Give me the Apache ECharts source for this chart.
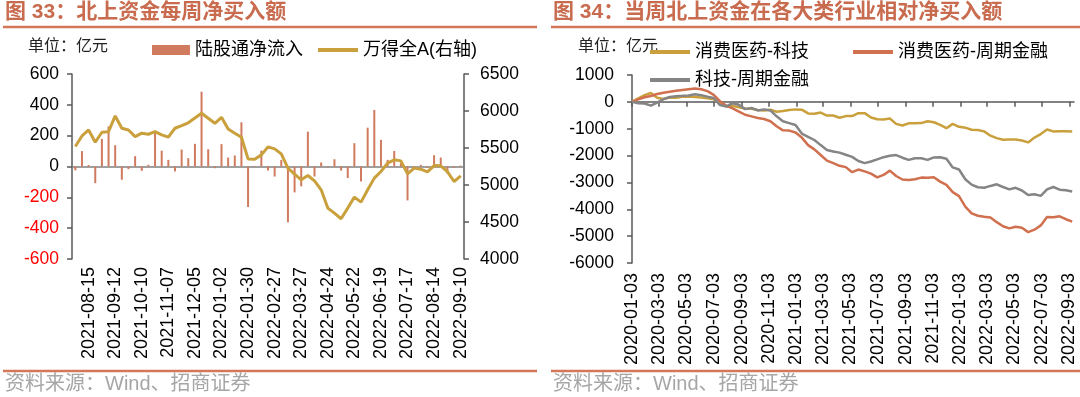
<!DOCTYPE html>
<html lang="zh">
<head>
<meta charset="UTF-8">
<title>北上资金</title>
<script src="https://cdn.jsdelivr.net/npm/echarts@6.0.0/dist/echarts.min.js"></script>
<style>
  html, body { margin: 0; padding: 0; background: #fff; }
  #main { width: 1080px; height: 397px; }
</style>
</head>
<body>
<div id="main"></div>
<script>
// 图33：周度数据
var weeks = [
  '2021-08-01','2021-08-08','2021-08-15','2021-08-22','2021-08-29','2021-09-05','2021-09-12','2021-09-19','2021-09-26',
  '2021-10-03','2021-10-10','2021-10-17','2021-10-24','2021-10-31','2021-11-07','2021-11-14','2021-11-21','2021-11-28',
  '2021-12-05','2021-12-12','2021-12-19','2021-12-26','2022-01-02','2022-01-09','2022-01-16','2022-01-23','2022-01-30',
  '2022-02-06','2022-02-13','2022-02-20','2022-02-27','2022-03-06','2022-03-13','2022-03-20','2022-03-27','2022-04-03',
  '2022-04-10','2022-04-17','2022-04-24','2022-05-01','2022-05-08','2022-05-15','2022-05-22','2022-05-29','2022-06-05',
  '2022-06-12','2022-06-19','2022-06-26','2022-07-03','2022-07-10','2022-07-17','2022-07-24','2022-07-31','2022-08-07',
  '2022-08-14','2022-08-21','2022-08-28','2022-09-04','2022-09-10'
];
// 陆股通净流入（亿元）
var northFlow = [
  -25, 100, 10, -108, 179, 260, 138, -86, -17, 67, -28, 11, 226, 103, 43, -32, 110, 54, 147, 485,
  112, -11, 145, 58, 71, 287, -263, 4, 103, -26, -65, 43, -362, -168, -129, 226, -65, 26, -5, 47,
  -26, -75, 151, -97, 252, 367, 173, 43, 101, 22, -220, -6, 11, -8, 73, 58, -45, -8, 6
];
// 万得全A（右轴）
var windA = [
  5520, 5663, 5744, 5578, 5713, 5721, 5933, 5767, 5744, 5654, 5700, 5686, 5721, 5677, 5646, 5767, 5802, 5840, 5905, 5969,
  5902, 5834, 5915, 5758, 5700, 5646, 5353, 5349, 5407, 5515, 5488, 5420, 5228, 5147, 5070, 5128, 5055, 4935, 4688, 4620,
  4544, 4688, 4836, 4769, 4935, 5093, 5182, 5295, 5340, 5326, 5151, 5228, 5214, 5178, 5263, 5259, 5180, 5047, 5124
];

// 图34：双周取点，自 2020-01-03 起（横轴为天数）
var dayTicks = [0, 60, 121, 182, 244, 305, 366, 425, 486, 547, 609, 670, 731, 790, 851, 912, 974];
var dayTickLabels = ['2020-01-03','2020-03-03','2020-05-03','2020-07-03','2020-09-03','2020-11-03','2021-01-03',
  '2021-03-03','2021-05-03','2021-07-03','2021-09-03','2021-11-03','2022-01-03','2022-03-03','2022-05-03','2022-07-03','2022-09-03'];
var consVsTech = [
  0, 130, 250, 330, 150, 110, 160, 150, 190, 200, 180, 160, 130, 100, -60, -170, -150, -200, -250, -260,
  -300, -320, -290, -370, -340, -300, -280, -290, -430, -440, -400, -510, -510, -590, -530, -530, -420, -420, -580, -650,
  -660, -620, -820, -880, -800, -800, -790, -720, -760, -860, -980, -820, -930, -960, -1040, -1045, -1100, -1260, -1350, -1410,
  -1400, -1400, -1440, -1510, -1330, -1200, -1030, -1100, -1090, -1095, -1100
];
var consVsCyc = [
  0, 90, 170, 220, 290, 340, 380, 410, 440, 470, 500, 470, 400, 260, 20, -150, -240, -360, -480, -540,
  -600, -640, -720, -910, -1060, -1070, -1140, -1330, -1610, -1770, -1980, -2190, -2280, -2380, -2430, -2620, -2520, -2590, -2670, -2810,
  -2720, -2560, -2760, -2890, -2910, -2880, -2820, -2830, -2810, -2970, -3090, -3360, -3510, -3900, -4150, -4240, -4280, -4310, -4480, -4630,
  -4710, -4650, -4690, -4850, -4760, -4600, -4290, -4300, -4260, -4370, -4460
];
var techVsCyc = [
  0, -50, -60, -140, -30, 100, 180, 210, 224, 240, 280, 250, 190, 140, -120, -170, -50, -110, -270, -230,
  -320, -280, -320, -540, -720, -790, -860, -1180, -1300, -1420, -1610, -1790, -1850, -1890, -1970, -2050, -2200, -2280, -2220, -2140,
  -2060, -2010, -1980, -2080, -2160, -2100, -2100, -2160, -2070, -2060, -2120, -2440, -2520, -2880, -3080, -3180, -3200, -3130, -3070, -3170,
  -3260, -3200, -3300, -3470, -3440, -3500, -3260, -3170, -3270, -3290, -3340
];
var stepDays = 14;

function toPairs(arr) {
  return arr.map(function (v, i) { return [i * stepDays, v]; });
}

var FONT = "'Liberation Sans', 'Noto Sans CJK SC', sans-serif";
var RED = '#C86B4E';
var RULE = '#D4775A';
var AXIS = '#595959';

var chart = echarts.init(document.getElementById('main'));

function plainNum(v) { return String(v); }

function yAxisBase(extra) {
  var base = {
    type: 'value',
    axisLine: { show: true, lineStyle: { color: AXIS, width: 1.5 } },
    axisTick: { show: true, length: 5, lineStyle: { color: AXIS, width: 1.5 } },
    splitLine: { show: false }
  };
  return Object.assign(base, extra);
}

var option = {
  animation: false,
  textStyle: { fontFamily: FONT },
  grid: [
    { left: 72, right: 616, top: 74, bottom: 138 },
    { left: 632, right: 6, top: 75, bottom: 134 }
  ],
  legend: [
    { data: ['陆股通净流入'], left: 152, top: 41, padding: 0, icon: 'rect', itemWidth: 38, itemHeight: 10,
      textStyle: { fontSize: 18, color: '#000', fontFamily: FONT } },
    { data: ['万得全A(右轴)'], left: 318, top: 41, padding: 0, icon: 'rect', itemWidth: 40, itemHeight: 4,
      textStyle: { fontSize: 18, color: '#000', fontFamily: FONT } },
    { data: ['消费医药-科技'], left: 650, top: 43, padding: 0, icon: 'rect', itemWidth: 40, itemHeight: 4,
      textStyle: { fontSize: 18, color: '#000', fontFamily: FONT } },
    { data: ['消费医药-周期金融'], left: 853, top: 43, padding: 0, icon: 'rect', itemWidth: 40, itemHeight: 4,
      textStyle: { fontSize: 18, color: '#000', fontFamily: FONT } },
    { data: ['科技-周期金融'], left: 650, top: 71, padding: 0, icon: 'rect', itemWidth: 40, itemHeight: 4,
      textStyle: { fontSize: 18, color: '#000', fontFamily: FONT } }
  ],
  xAxis: [
    {
      type: 'category', gridIndex: 0, data: weeks, boundaryGap: true, position: 'bottom',
      axisLine: { show: false }, axisTick: { show: false },
      axisLabel: {
        rotate: 90, fontSize: 18, color: '#000', margin: 8, fontFamily: FONT,
        interval: function (i) { return i % 4 === 2; }
      }
    },
    {
      type: 'category', gridIndex: 0, data: weeks, boundaryGap: true, position: 'bottom',
      axisLine: { show: true, onZero: true, onZeroAxisIndex: 0, lineStyle: { color: '#808080', width: 1.5 } },
      axisTick: { show: false }, axisLabel: { show: false }
    },
    {
      type: 'value', gridIndex: 1, min: 0, max: 984, position: 'bottom',
      axisLine: { show: false, onZero: false }, axisTick: { show: false }, splitLine: { show: false },
      axisLabel: {
        customValues: dayTicks, rotate: 90, fontSize: 18, color: '#000', margin: 10, fontFamily: FONT,
        formatter: function (v) {
          var k = dayTicks.indexOf(v);
          return k >= 0 ? dayTickLabels[k] : '';
        }
      }
    },
    {
      type: 'value', gridIndex: 1, min: 0, max: 984, position: 'bottom',
      axisLine: { show: true, onZero: true, onZeroAxisIndex: 2, lineStyle: { color: AXIS, width: 1.5 } },
      axisTick: { show: true, customValues: dayTicks, length: 5, lineStyle: { color: AXIS, width: 1.5 } },
      axisLabel: { show: false }, splitLine: { show: false }
    }
  ],
  yAxis: [
    yAxisBase({
      gridIndex: 0, min: -600, max: 600, interval: 200, position: 'left',
      axisLabel: {
        fontFamily: FONT, fontSize: 17.5, margin: 13, formatter: plainNum,
        color: function (v) { return Number(v) < 0 ? '#FF0000' : '#000'; }
      }
    }),
    yAxisBase({
      gridIndex: 0, min: 4000, max: 6500, interval: 500, position: 'right',
      axisLabel: { fontFamily: FONT, fontSize: 17.5, color: '#000', margin: 16, formatter: plainNum }
    }),
    yAxisBase({
      gridIndex: 1, min: -6000, max: 1000, interval: 1000, position: 'left',
      axisLabel: { fontFamily: FONT, fontSize: 17.5, color: '#000', margin: 18, formatter: plainNum }
    })
  ],
  series: [
    {
      name: '陆股通净流入', type: 'bar', xAxisIndex: 0, yAxisIndex: 0,
      data: northFlow, barWidth: 2, itemStyle: { color: '#D07A5E' }
    },
    {
      name: '万得全A(右轴)', type: 'line', xAxisIndex: 0, yAxisIndex: 1,
      data: windA, symbol: 'none', z: 3, itemStyle: { color: '#C9A03C' },
      lineStyle: { color: '#C9A03C', width: 3 }
    },
    {
      name: '消费医药-科技', type: 'line', xAxisIndex: 2, yAxisIndex: 2,
      data: toPairs(consVsTech), symbol: 'none', itemStyle: { color: '#C9A03C' },
      lineStyle: { color: '#C9A03C', width: 2.5 }
    },
    {
      name: '消费医药-周期金融', type: 'line', xAxisIndex: 2, yAxisIndex: 2,
      data: toPairs(consVsCyc), symbol: 'none', itemStyle: { color: '#D0704F' },
      lineStyle: { color: '#D0704F', width: 2.5 }
    },
    {
      name: '科技-周期金融', type: 'line', xAxisIndex: 2, yAxisIndex: 2,
      data: toPairs(techVsCyc), symbol: 'none', itemStyle: { color: '#858585' },
      lineStyle: { color: '#858585', width: 2.5 }
    }
  ],
  graphic: [
    { type: 'text', left: 5, top: 2, style: { text: '图 33：北上资金每周净买入额', fill: RED, font: 'bold 21px ' + FONT } },
    { type: 'text', left: 553, top: 2, style: { text: '图 34：当周北上资金在各大类行业相对净买入额', fill: RED, font: 'bold 21px ' + FONT } },
    { type: 'line', shape: { x1: 3, y1: 27, x2: 537, y2: 27 }, style: { stroke: RULE, lineWidth: 2.5 } },
    { type: 'line', shape: { x1: 551, y1: 27, x2: 1080, y2: 27 }, style: { stroke: RULE, lineWidth: 2.5 } },
    { type: 'line', shape: { x1: 3, y1: 371, x2: 537, y2: 371 }, style: { stroke: RULE, lineWidth: 2.5 } },
    { type: 'line', shape: { x1: 551, y1: 371, x2: 1080, y2: 371 }, style: { stroke: RULE, lineWidth: 2.5 } },
    { type: 'text', left: 28, top: 39, style: { text: '单位：亿元', fill: '#222', font: '16px ' + FONT } },
    { type: 'text', left: 578, top: 39, style: { text: '单位：亿元', fill: '#222', font: '16px ' + FONT } },
    { type: 'text', left: 5, top: 374, style: { text: '资料来源：Wind、招商证券', fill: '#A6A6A6', font: '20px ' + FONT } },
    { type: 'text', left: 553, top: 374, style: { text: '资料来源：Wind、招商证券', fill: '#A6A6A6', font: '20px ' + FONT } }
  ]
};

chart.setOption(option);
</script>
</body>
</html>
